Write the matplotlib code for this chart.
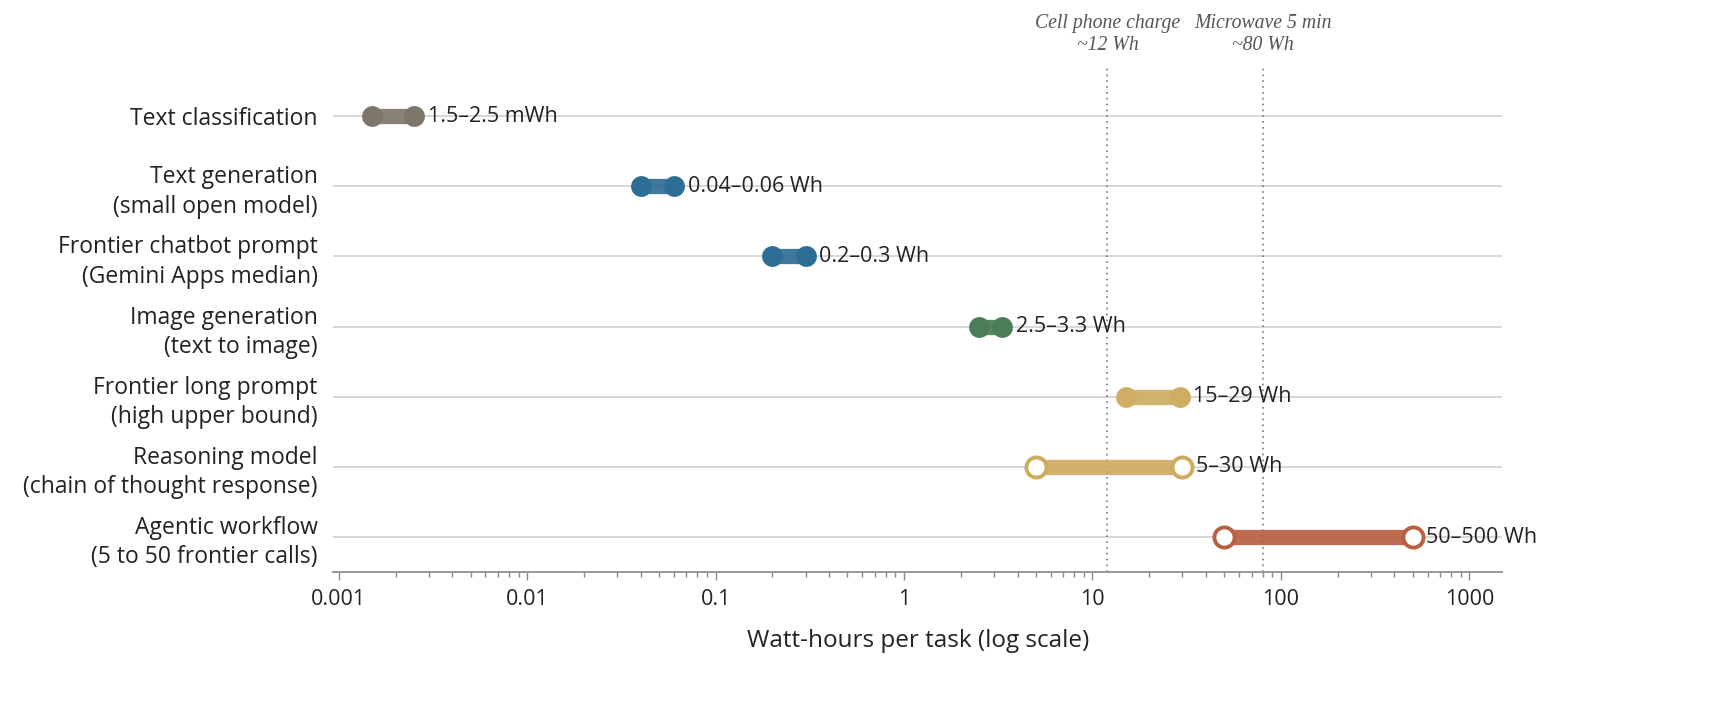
import matplotlib.pyplot as plt
from matplotlib.ticker import LogLocator, NullFormatter
from matplotlib.transforms import blended_transform_factory

categories = [
    "Text classification",
    "Text generation\n(small open model)",
    "Frontier chatbot prompt\n(Gemini Apps median)",
    "Image generation\n(text to image)",
    "Frontier long prompt\n(high upper bound)",
    "Reasoning model\n(chain of thought response)",
    "Agentic workflow\n(5 to 50 frontier calls)",
]
low_wh = [0.0015, 0.04, 0.2, 2.5, 15, 5, 50]
high_wh = [0.0025, 0.06, 0.3, 3.3, 29, 30, 500]
range_labels = ["1.5\u20132.5 mWh", "0.04\u20130.06 Wh", "0.2\u20130.3 Wh",
                "2.5\u20133.3 Wh", "15\u201329 Wh", "5\u201330 Wh", "50\u2013500 Wh"]
colors = ["#7d776b", "#2e6e95", "#2e6e95", "#4b7d58",
          "#cfad62", "#cfab5f", "#b95f42"]
hollow = [False, False, False, False, False, True, True]

ref_values = [12, 80]
ref_labels = ["Cell phone charge\n~12 Wh", "Microwave 5 min\n~80 Wh"]

tick_values = [0.001, 0.01, 0.1, 1, 10, 100, 1000]
tick_labels = ["0.001", "0.01", "0.1", "1", "10", "100", "1000"]

SANS = ["Open Sans", "DejaVu Sans"]
SERIF = ["Liberation Serif", "DejaVu Serif"]


def main():
    fig = plt.figure(figsize=(17.25, 7.27), dpi=100, facecolor="white")
    ax = fig.add_axes([0.193, 0.213, 0.678, 0.6935])
    ax.set_facecolor("white")

    ax.set_xscale("log")
    ax.set_xlim(0.00093, 1500)
    ax.set_ylim(6.5, -0.685)

    # light row guides
    for i in range(len(categories)):
        ax.axhline(i, color="#d4d4d4", lw=1.3, zorder=1)

    # reference lines
    for v in ref_values:
        ax.axvline(v, color="#777777", lw=1.2, ls=(0, (1, 2.5)), zorder=2)

    for i, (lo, hi, c, h) in enumerate(zip(low_wh, high_wh, colors, hollow)):
        ax.plot([lo, hi], [i, i], color=c, lw=11, alpha=0.92,
                solid_capstyle="butt", zorder=3)
        if h:
            ax.plot([lo, hi], [i, i], ls="none", marker="o", ms=14.5,
                    mfc="white", mec=c, mew=2.8, zorder=4)
        else:
            ax.plot([lo, hi], [i, i], ls="none", marker="o", ms=15,
                    mfc=c, mec=c, mew=0, zorder=4)
        ax.annotate(range_labels[i], xy=(hi, i), xytext=(10, 0),
                    textcoords="offset points", ha="left", va="center",
                    fontsize=15.5, color="#222222", family=SANS, zorder=5)

    # notes above the reference lines
    trans = blended_transform_factory(ax.transData, fig.transFigure)
    for v, lab in zip(ref_values, ref_labels):
        ax.text(v, 0.925, lab, transform=trans, ha="center", va="bottom",
                fontsize=14.2, style="italic", color="#555555",
                family=SERIF, linespacing=1.2, clip_on=False)

    ax.set_yticks(range(len(categories)))
    ax.set_yticklabels(categories, family=SANS, fontsize=16.5,
                       color="#222222", linespacing=1.3)
    ax.tick_params(axis="y", length=0, pad=11)

    ax.set_xticks(tick_values)
    ax.set_xticklabels(tick_labels, family=SANS, fontsize=15.5,
                       color="#222222")
    ax.xaxis.set_minor_locator(LogLocator(base=10, subs=range(2, 10)))
    ax.xaxis.set_minor_formatter(NullFormatter())
    ax.tick_params(axis="x", which="major", length=6, width=1,
                   color="#888888", pad=6)
    ax.tick_params(axis="x", which="minor", length=3.5, width=1,
                   color="#888888")

    ax.set_xlabel("Watt-hours per task (log scale)", family=SANS,
                  fontsize=17.5, color="#222222", labelpad=14)

    for side in ["top", "right", "left"]:
        ax.spines[side].set_visible(False)
    ax.spines["bottom"].set_color("#999999")
    ax.spines["bottom"].set_linewidth(1.4)

    fig.savefig("out.png", dpi=100, facecolor=fig.get_facecolor())


if __name__ == "__main__":
    main()
